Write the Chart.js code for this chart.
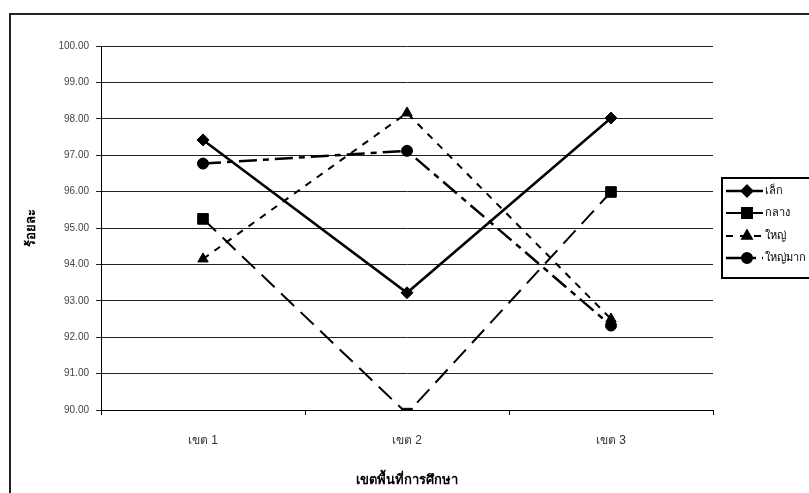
<!DOCTYPE html>
<html lang="th">
<head>
<meta charset="utf-8">
<title>ร้อยละ จำแนกตามเขตพื้นที่การศึกษา</title>
<script src="https://cdn.jsdelivr.net/npm/chart.js@4.4.1/dist/chart.umd.min.js"></script>
<style>
	body { margin: 0; background: #fff; }
	#frame { position: absolute; left: 9px; top: 13px; width: 900px; height: 600px;
		border-left: 2px solid #222; border-top: 2px solid #222; }
	#c { position: absolute; left: 0; top: 0; }
</style>
<script>
// data
var categories = ["เขต 1", "เขต 2", "เขต 3"];
var seriesNames = ["เล็ก", "กลาง", "ใหญ่", "ใหญ่มาก"];
var small = [97.42, 93.22, 98.02];
var medium = [95.25, 89.9, 95.99];
var large = [94.15, 98.16, 92.5];
var extraLarge = [96.77, 97.12, 92.32];
var yTicksMin = 90, yTicksMax = 100, yTicksStep = 1;
var xTitle = "เขตพื้นที่การศึกษา";
var yTitle = "ร้อยละ";
</script>
</head>
<body>
<div id="frame"></div>
<canvas id="c" width="809" height="493"></canvas>
<script>
var FONT = "'Liberation Sans', Arial, sans-serif";

// legend with line sample + marker, drawn in the box at the right
var lineLegend = {
	id: "lineLegend",
	afterDraw: function(chart){
		var ctx = chart.ctx;
		ctx.save();
		ctx.strokeStyle = "#000";
		ctx.lineWidth = 2;
		ctx.strokeRect(722, 178, 100, 100);
		var rows = [191, 213, 236, 258];
		chart.data.datasets.forEach(function(ds, i){
			var y = rows[i];
			ctx.save();
			ctx.strokeStyle = "#000";
			ctx.lineWidth = ds.borderWidth;
			ctx.setLineDash(ds.borderDash || []);
			ctx.beginPath();
			ctx.moveTo(726, y);
			ctx.lineTo(763, y);
			ctx.stroke();
			ctx.restore();
			ctx.save();
			ctx.fillStyle = "#000";
			ctx.strokeStyle = "#000";
			ctx.setLineDash([]);
			Chart.helpers.drawPoint(ctx, {pointStyle: ds.pointStyle, radius: ds.pointRadius - 0.5,
				rotation: 0, borderWidth: 1}, 747, y);
			ctx.restore();
			ctx.fillStyle = "#000";
			ctx.font = "11px " + FONT;
			ctx.textBaseline = "middle";
			ctx.textAlign = "left";
			ctx.fillText(ds.label, 765, y);
		});
		ctx.restore();
	}
};

function makeSet(label, values, dash, style, radius, width){
	return {
		label: label,
		data: values,
		borderColor: "#000",
		backgroundColor: "#000",
		borderWidth: width,
		borderDash: dash,
		pointStyle: style,
		pointRadius: radius,
		pointBackgroundColor: "#000",
		pointBorderColor: "#000",
		pointBorderWidth: 1,
		tension: 0,
		fill: false
	};
}

new Chart(document.getElementById("c"), {
	type: "line",
	data: {
		labels: categories,
		datasets: [
			makeSet(seriesNames[0], small, [], "rectRot", 6, 2.5),
			makeSet(seriesNames[1], medium, [18, 9], "rect", 7.5, 2),
			makeSet(seriesNames[2], large, [7, 7], "triangle", 6, 2),
			makeSet(seriesNames[3], extraLarge, [18, 6, 6, 6], "circle", 5.5, 2.5)
		]
	},
	options: {
		responsive: false,
		animation: false,
		devicePixelRatio: 1,
		layout: {padding: {left: 0, right: 96, top: 46, bottom: 0}},
		plugins: {legend: {display: false}, tooltip: {enabled: false}},
		scales: {
			x: {
				offset: true,
				grid: {offset: true, drawOnChartArea: false, drawTicks: true, tickLength: 5, color: "#000"},
				border: {display: true, color: "#000", width: 1},
				ticks: {padding: 18, color: "#333", font: {family: FONT, size: 12}},
				title: {display: true, text: xTitle, color: "#000", padding: {top: 0, bottom: 5},
					font: {family: FONT, size: 13, weight: "bold"}},
				afterFit: function(scale){ scale.height = 83; }
			},
			y: {
				min: yTicksMin,
				max: yTicksMax,
				grid: {color: "#222", lineWidth: 1, tickLength: 5},
				border: {display: true, color: "#000", width: 1},
				ticks: {stepSize: yTicksStep, padding: 7, color: "#444", font: {family: FONT, size: 10},
					callback: function(v){ return Number(v).toFixed(2); }},
				title: {display: true, text: yTitle, color: "#000", padding: {top: 24, bottom: 0},
					font: {family: FONT, size: 13, weight: "bold"}},
				afterFit: function(scale){ scale.width = 101; }
			}
		}
	},
	plugins: [lineLegend]
});
</script>
</body>
</html>
